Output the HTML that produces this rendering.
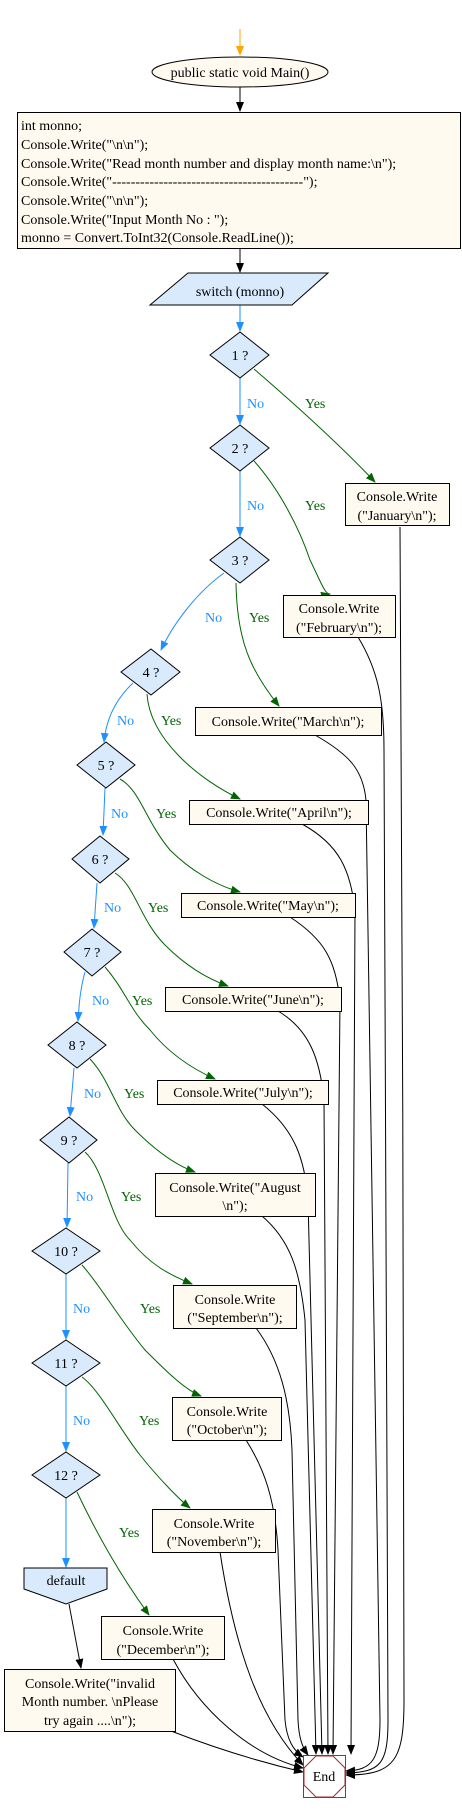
<!DOCTYPE html>
<html><head><meta charset="utf-8"><style>
html,body{margin:0;padding:0;background:#fff;}
svg{display:block;font-family:"Liberation Serif",serif;}
</style></head><body>
<svg width="462" height="1812" viewBox="0 0 462 1812" xmlns="http://www.w3.org/2000/svg">
<defs>
<marker id="ab" markerWidth="10" markerHeight="8" refX="9" refY="4" orient="auto" markerUnits="userSpaceOnUse"><path d="M0,0 L10,4 L0,8 z" fill="#000"/></marker>
<marker id="ag" markerWidth="10" markerHeight="8" refX="9" refY="4" orient="auto" markerUnits="userSpaceOnUse"><path d="M0,0 L10,4 L0,8 z" fill="#006400"/></marker>
<marker id="au" markerWidth="10" markerHeight="8" refX="9" refY="4" orient="auto" markerUnits="userSpaceOnUse"><path d="M0,0 L10,4 L0,8 z" fill="#1e90ff"/></marker>
<marker id="ao" markerWidth="10" markerHeight="8" refX="9" refY="4" orient="auto" markerUnits="userSpaceOnUse"><path d="M0,0 L10,4 L0,8 z" fill="#ffa500"/></marker>
</defs>
<g fill="none" stroke-width="1">
<path d="M240,29 L240,55" stroke="#ffa500" marker-end="url(#ao)"/>
<path d="M240,87 L240,111" stroke="#000" marker-end="url(#ab)"/>
<path d="M240,248 L240,272" stroke="#000" marker-end="url(#ab)"/>
<g stroke="#1e90ff" marker-end="url(#au)">
<path d="M240,305 L240,331"/>
<path d="M240,378 L240,424"/>
<path d="M240,471 L240,536"/>
<path d="M224,573 C200,590 175,620 161,650"/>
<path d="M133,683 C115,700 106,720 104,742"/>
<path d="M105,788 L103,835"/>
<path d="M97,883 L94,928"/>
<path d="M85,972 C80,990 79,1005 78,1021"/>
<path d="M74,1068 L70,1116"/>
<path d="M68,1163 L67,1227"/>
<path d="M66,1274 L66,1339"/>
<path d="M66,1386 L66,1451"/>
<path d="M66,1498 L66,1567"/>
</g>
<g stroke="#006400" marker-end="url(#ag)">
<path d="M254,369 C290,400 340,445 375,482"/>
<path d="M254,461 C280,490 300,530 310,560 C320,580 325,595 330,594"/>
<path d="M236,583 C237,640 250,670 279,706"/>
<path d="M147,694 C150,740 200,780 240,799"/>
<path d="M120,779 C140,790 145,820 170,850 C190,870 215,885 240,892"/>
<path d="M115,873 C135,885 140,920 165,945 C185,965 205,978 228,986"/>
<path d="M105,967 C125,990 130,1010 150,1030 C170,1055 195,1070 215,1079"/>
<path d="M90,1059 C110,1080 115,1110 135,1130 C155,1150 175,1165 195,1172"/>
<path d="M85,1152 C105,1170 110,1220 130,1240 C150,1265 170,1275 192,1284"/>
<path d="M82,1265 C100,1285 120,1320 145,1350 C165,1370 185,1390 201,1396"/>
<path d="M82,1377 C100,1390 120,1430 140,1455 C160,1480 180,1500 190,1508"/>
<path d="M77,1492 C95,1530 120,1575 149,1615"/>
</g>
<g stroke="#000">
<path d="M69,1604 L81,1668" marker-end="url(#ab)"/>
<path d="M400,527 C402,600 404,1600 404,1700 C404,1760 395,1775 346,1775" marker-end="url(#ab)"/>
<path d="M358,637 C378,670 384,700 384,750 L388,1720 C388,1765 380,1772 346,1773" marker-end="url(#ab)"/>
<path d="M315,735 C350,755 363,770 366,800 L380,1720 C380,1760 372,1770 346,1771" marker-end="url(#ab)"/>
<path d="M302,824 C340,845 350,870 355,910 L351,1754" marker-end="url(#ab)"/>
<path d="M290,917 C325,940 335,960 340,1000 L333,1754" marker-end="url(#ab)"/>
<path d="M278,1011 C310,1030 320,1060 324,1100 L328,1754" marker-end="url(#ab)"/>
<path d="M262,1104 C295,1130 305,1160 308,1200 L322,1754" marker-end="url(#ab)"/>
<path d="M262,1216 C290,1240 300,1270 305,1320 L316,1754" marker-end="url(#ab)"/>
<path d="M256,1328 C280,1360 290,1400 292,1450 L298,1720 C299,1740 303,1748 308,1755" marker-end="url(#ab)"/>
<path d="M246,1440 C265,1470 275,1500 278,1550 L285,1720 C287,1740 293,1750 303,1757" marker-end="url(#ab)"/>
<path d="M220,1552 C235,1650 260,1720 303,1765" marker-end="url(#ab)"/>
<path d="M173,1659 C200,1710 250,1755 303,1768" marker-end="url(#ab)"/>
<path d="M171,1731 C220,1750 260,1762 303,1772" marker-end="url(#ab)"/>
</g>
</g>
<ellipse cx="240" cy="72" rx="88" ry="15" fill="#fffaf0" stroke="#000"/>
<text x="240" y="77" font-size="14" text-anchor="middle">public static void Main()</text>
<rect x="17.5" y="112.5" width="443" height="136" fill="#fffaf0" stroke="#000"/>
<g font-size="14">
<text x="21" y="130">int monno;</text>
<text x="21" y="149">Console.Write("\n\n");</text>
<text x="21" y="168">Console.Write("Read month number and display month name:\n");</text>
<text x="21" y="186">Console.Write("-----------------------------------------");</text>
<text x="21" y="205">Console.Write("\n\n");</text>
<text x="21" y="224">Console.Write("Input Month No : ");</text>
<text x="21" y="242">monno = Convert.ToInt32(Console.ReadLine());</text>
</g>
<polygon points="188,273 328,273 292,305 150,305" fill="#d8eafc" stroke="#000"/>
<text x="240" y="296" font-size="14" text-anchor="middle">switch (monno)</text>
<g fill="#d8eafc" stroke="#000">
<polygon points="240,332 269,355 240,378 210,355"/>
<polygon points="240,425 269,448 240,471 210,448"/>
<polygon points="240,537 269,560 240,583 210,560"/>
<polygon points="151,649 180,672 151,695 121,672"/>
<polygon points="106,742 135,765 106,788 77,765"/>
<polygon points="100,836 129,859 100,883 72,859"/>
<polygon points="92,929 121,952 92,976 64,952"/>
<polygon points="77,1022 106,1045 77,1068 48,1045"/>
<polygon points="69,1117 97,1140 69,1163 40,1140"/>
<polygon points="66,1228 100,1251 66,1274 32,1251"/>
<polygon points="66,1340 100,1363 66,1386 32,1363"/>
<polygon points="66,1452 100,1475 66,1498 32,1475"/>
<polygon points="24,1568 107,1568 107,1589 66,1604 24,1589"/>
</g>
<g font-size="14" text-anchor="middle">
<text x="240" y="360">1 ?</text><text x="240" y="453">2 ?</text><text x="240" y="565">3 ?</text>
<text x="151" y="677">4 ?</text><text x="106" y="770">5 ?</text><text x="100" y="864">6 ?</text>
<text x="92" y="957">7 ?</text><text x="77" y="1050">8 ?</text><text x="69" y="1145">9 ?</text>
<text x="66" y="1256">10 ?</text><text x="66" y="1368">11 ?</text><text x="66" y="1480">12 ?</text>
<text x="66" y="1585">default</text>
</g>
<g fill="#fffaf0" stroke="#000">
<rect x="345.5" y="483.5" width="104" height="42"/>
<rect x="283.5" y="595.5" width="112" height="42"/>
<rect x="195.5" y="707.5" width="186" height="28"/>
<rect x="189.5" y="800.5" width="179" height="24"/>
<rect x="181.5" y="893.5" width="174" height="24"/>
<rect x="165.5" y="987.5" width="176" height="24"/>
<rect x="157.5" y="1080.5" width="171" height="24"/>
<rect x="155.5" y="1173.5" width="160" height="43"/>
<rect x="173.5" y="1285.5" width="123" height="43"/>
<rect x="172.5" y="1397.5" width="109" height="43"/>
<rect x="152.5" y="1509.5" width="123" height="43"/>
<rect x="101.5" y="1616.5" width="123" height="43"/>
<rect x="4.5" y="1669.5" width="171" height="62"/>
</g>
<g font-size="14" text-anchor="middle">
<text x="397" y="501">Console.Write</text><text x="397" y="520">("January\n");</text>
<text x="339" y="613">Console.Write</text><text x="339" y="632">("February\n");</text>
<text x="288" y="726">Console.Write("March\n");</text>
<text x="279" y="817">Console.Write("April\n");</text>
<text x="268" y="910">Console.Write("May\n");</text>
<text x="253" y="1004">Console.Write("June\n");</text>
<text x="243" y="1097">Console.Write("July\n");</text>
<text x="235" y="1192">Console.Write("August</text><text x="235" y="1210">\n");</text>
<text x="235" y="1304">Console.Write</text><text x="235" y="1322">("September\n");</text>
<text x="227" y="1416">Console.Write</text><text x="227" y="1434">("October\n");</text>
<text x="214" y="1528">Console.Write</text><text x="214" y="1546">("November\n");</text>
<text x="163" y="1635">Console.Write</text><text x="163" y="1654">("December\n");</text>
<text x="90" y="1688">Console.Write("invalid</text><text x="90" y="1706">Month number. \nPlease</text><text x="90" y="1725">try again ....\n");</text>
</g>
<g font-size="14" fill="#1e90ff">
<text x="247" y="408">No</text><text x="247" y="510">No</text><text x="205" y="622">No</text>
<text x="117" y="725">No</text><text x="111" y="818">No</text><text x="104" y="912">No</text>
<text x="92" y="1005">No</text><text x="84" y="1098">No</text><text x="76" y="1201">No</text>
<text x="73" y="1313">No</text><text x="73" y="1425">No</text>
</g>
<g font-size="14" fill="#006400">
<text x="305" y="408">Yes</text><text x="305" y="510">Yes</text><text x="249" y="622">Yes</text>
<text x="161" y="725">Yes</text><text x="156" y="818">Yes</text><text x="148" y="912">Yes</text>
<text x="132" y="1005">Yes</text><text x="124" y="1098">Yes</text><text x="121" y="1201">Yes</text>
<text x="140" y="1313">Yes</text><text x="139" y="1425">Yes</text><text x="119" y="1537">Yes</text>
</g>
<rect x="303.5" y="1755.5" width="42" height="42" fill="#fff" stroke="#a52a2a"/>
<polygon points="316,1756 333,1756 345,1768 345,1785 333,1797 316,1797 304,1785 304,1768" fill="none" stroke="#a52a2a"/>
<text x="324" y="1781" font-size="14" text-anchor="middle">End</text>
</svg>
</body></html>
